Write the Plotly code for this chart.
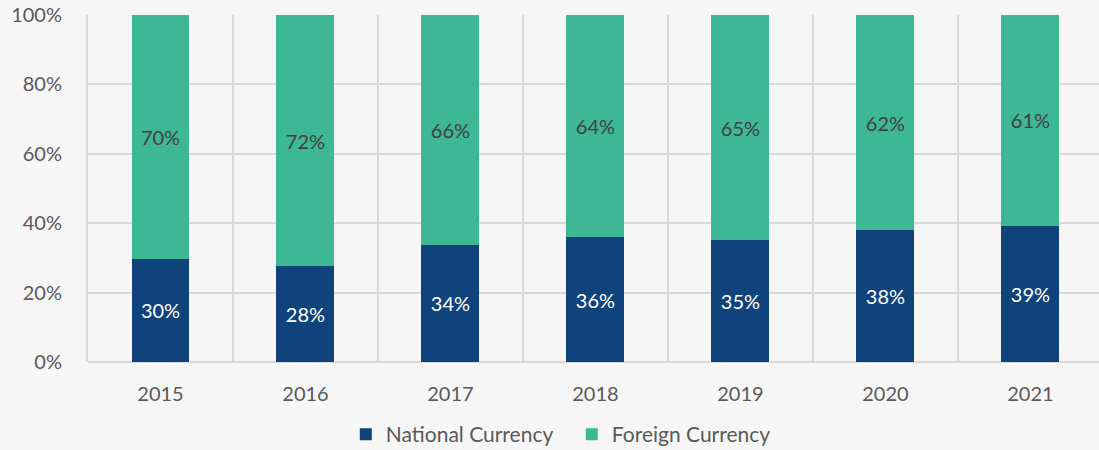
import plotly.graph_objects as go

years = [2015, 2016, 2017, 2018, 2019, 2020, 2021]
year_labels = ["2015", "2016", "2017", "2018", "2019", "2020", "2021"]
national = [29.7, 27.6, 33.8, 36.0, 35.1, 37.9, 39.2]
foreign = [70.3, 72.4, 66.2, 64.0, 64.9, 62.1, 60.8]

FONT = "Lato"
fig = go.Figure()
fig.add_trace(go.Bar(
    x=years, y=national, name="National Currency",
    marker=dict(color="#10427b", line=dict(width=0)), width=0.4,
    texttemplate="%{y:.0f}%", textposition="inside", insidetextanchor="middle",
    textfont=dict(color="#ffffff", size=20, family=FONT), textangle=0,
))
fig.add_trace(go.Bar(
    x=years, y=foreign, name="Foreign Currency",
    marker=dict(color="#3eb894", line=dict(width=0)), width=0.4,
    texttemplate="%{y:.0f}%", textposition="inside", insidetextanchor="middle",
    textfont=dict(color="#404040", size=20, family=FONT), textangle=0,
))

fig.update_layout(
    barmode="stack",
    width=1099, height=450,
    margin=dict(l=88, r=0, t=15, b=88, autoexpand=False),
    paper_bgcolor="#f6f6f6", plot_bgcolor="#f6f6f6",
    font=dict(family=FONT, size=20, color="#595959"),
    legend=dict(orientation="h", x=0.255, xanchor="left", y=-0.15, yanchor="top",
                font=dict(size=21, color="#595959"), traceorder="normal",
                itemwidth=30, entrywidth=181, entrywidthmode="pixels",
                bgcolor="rgba(0,0,0,0)"),
    showlegend=True,
)
fig.update_xaxes(
    range=[2014.5, 2021.473], tickvals=years, ticktext=year_labels,
    showgrid=False, zeroline=False, ticks="outside", ticklen=14, tickcolor="rgba(0,0,0,0)",
    minor=dict(tick0=2014.5, dtick=1, showgrid=True, gridcolor="#d9d9d9", gridwidth=2, ticks=""),
    tickfont=dict(size=20, color="#595959"),
)
fig.update_yaxes(
    range=[0, 100], dtick=20, ticksuffix="%", showgrid=True, gridcolor="#d9d9d9", gridwidth=2,
    zeroline=True, zerolinecolor="#d9d9d9", zerolinewidth=2,
    showline=True, linecolor="#d9d9d9", linewidth=2,
    ticks="outside", ticklen=20, tickcolor="rgba(0,0,0,0)",
    tickfont=dict(size=20, color="#595959"),
)
fig.write_html("out.html", config={"displayModeBar": False},
               post_script="document.body.style.margin='0';document.body.style.background='#f6f6f6';")
